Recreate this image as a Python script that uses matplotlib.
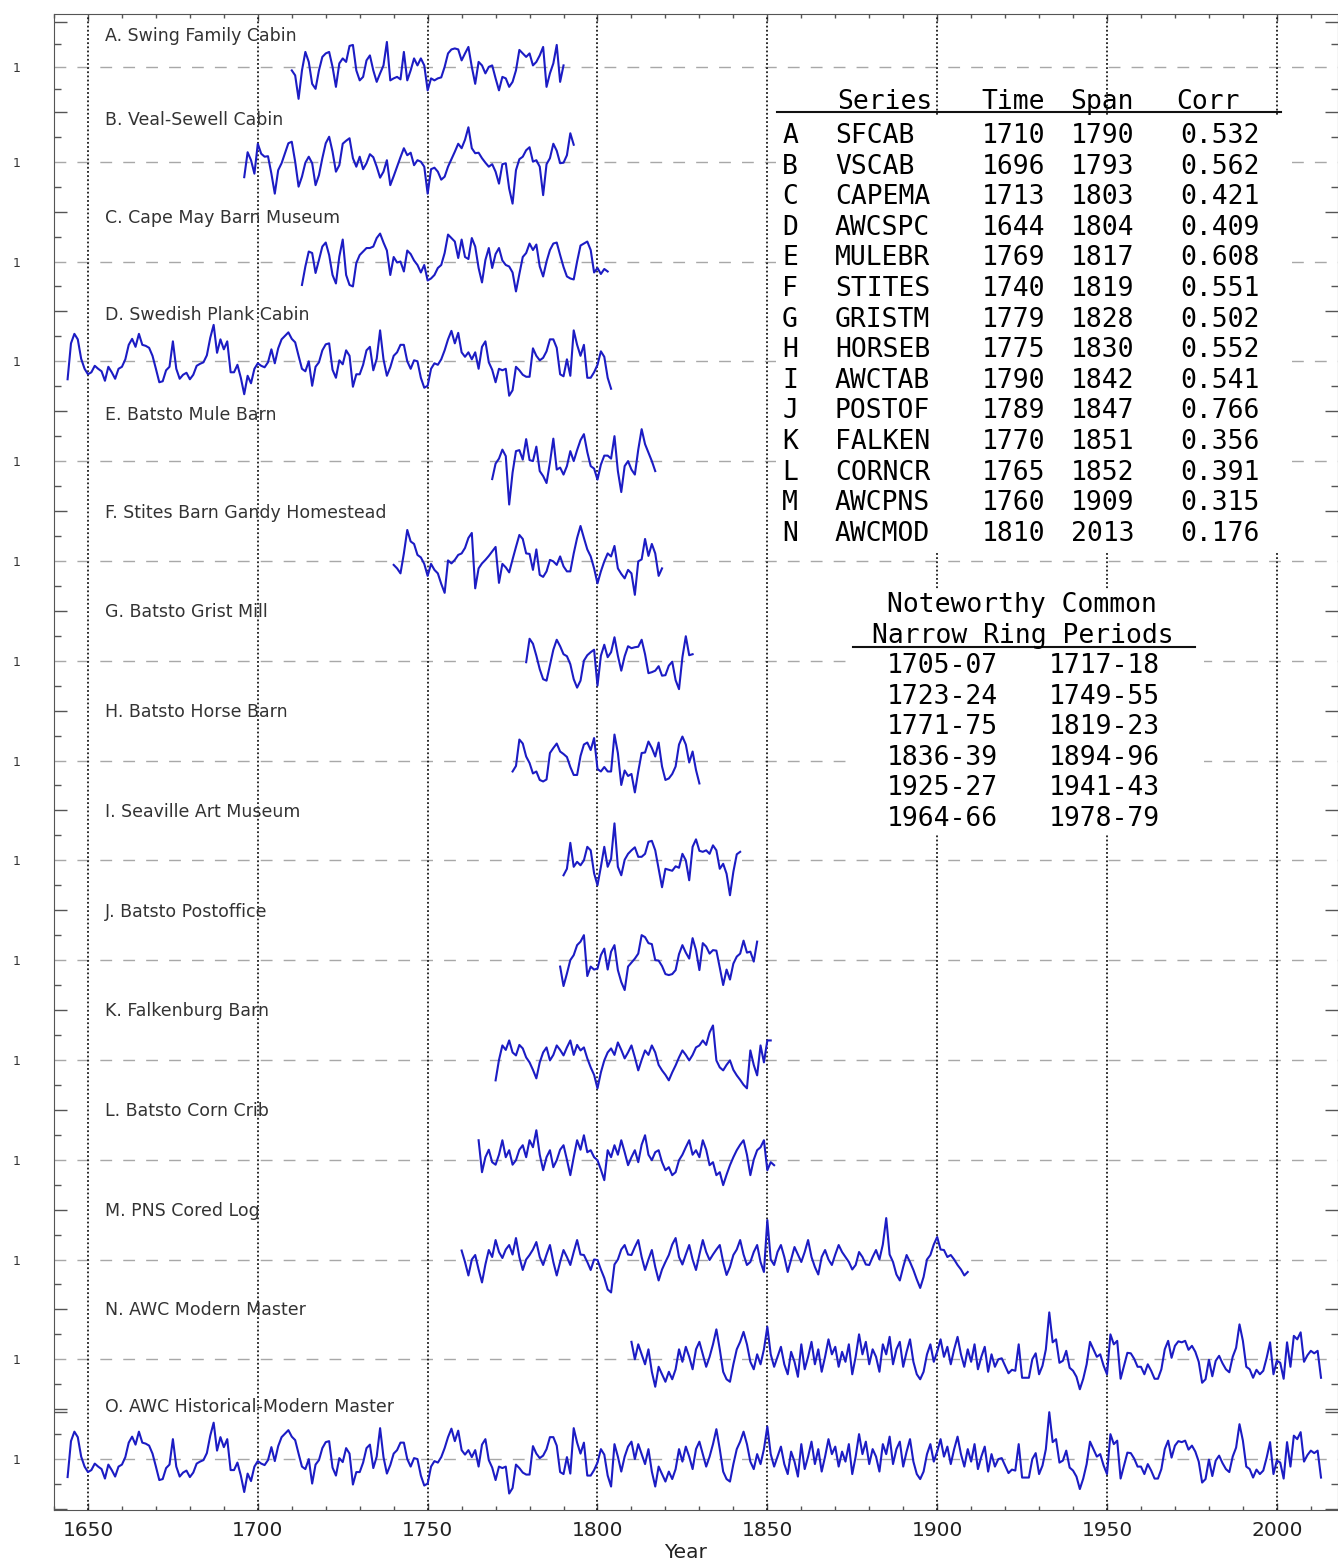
import numpy as np
import matplotlib
matplotlib.use("Agg")
import matplotlib.pyplot as plt
from matplotlib.lines import Line2D
from matplotlib.patches import Rectangle

W, H = 1338, 1563

# ring width indices, one value per year
a_vals = [0.93, 0.83, 0.36, 0.93, 1.30, 1.10, 0.66, 0.56, 0.93, 1.20,
          1.27, 1.30, 1.00, 0.60, 1.07, 1.17, 1.10, 1.42, 1.44, 0.93,
          0.73, 0.80, 1.13, 1.23, 0.93, 0.70, 0.87, 1.03, 1.50, 0.73,
          0.77, 0.80, 0.75, 1.30, 0.73, 0.93, 1.17, 1.03, 1.17, 1.03,
          0.53, 0.77, 0.73, 0.77, 0.79, 1.00, 1.27, 1.35, 1.37, 1.35,
          1.13, 1.27, 1.40, 1.00, 0.66, 1.10, 1.03, 0.87, 1.00, 1.03,
          0.77, 0.53, 0.80, 0.77, 0.60, 0.70, 0.93, 1.34, 1.27, 1.20,
          1.27, 1.03, 1.10, 1.23, 1.40, 0.60, 0.87, 1.07, 1.44, 0.70,
          1.03]
b_vals = [0.69, 1.19, 1.03, 0.76, 1.36, 1.16, 1.10, 1.11, 0.76, 0.36, 0.83,
          0.97, 1.17, 1.37, 1.40, 1.00, 0.50, 0.70, 0.98, 1.10, 0.97, 0.53, 0.73, 1.07,
          1.37, 1.50, 1.20, 0.80, 0.93, 1.36, 1.42, 1.47, 1.07, 0.90,
          1.10, 0.85, 0.97, 1.15, 1.09, 0.90, 0.68, 0.80, 1.03, 0.53,
          0.71, 0.90, 1.09, 1.27, 1.13, 1.18, 0.93, 1.03, 1.00, 0.90,
          0.36, 0.85, 0.88, 0.80, 0.64, 0.70, 0.90, 1.05, 1.20, 1.36,
          1.27, 1.44, 1.69, 1.27, 1.17, 1.18, 1.07, 0.98, 0.90, 0.95,
          0.80, 0.56, 0.95, 0.97, 0.46, 0.16, 0.83, 1.05, 1.10, 1.23,
          1.29, 1.00, 1.03, 0.90, 0.33, 0.95, 1.07, 1.36, 1.22, 0.97,
          0.98, 1.13, 1.57, 1.34]
c_vals = [0.53, 0.90, 1.20, 1.17, 0.77, 1.03, 1.30,
          1.38, 1.13, 0.73, 0.56, 1.10, 1.44, 0.73, 0.53, 0.50, 0.97,
          1.13, 1.20, 1.27, 1.27, 1.30, 1.47, 1.56, 1.38, 1.22, 0.73,
          1.09, 0.98, 1.00, 0.80, 1.22, 1.15, 1.02, 0.93, 0.78, 0.93,
          0.62, 0.66, 0.73, 0.87, 0.93, 1.17, 1.54, 1.47, 1.40, 1.07,
          1.44, 1.09, 1.05, 1.47, 1.30, 0.87, 0.58, 1.03, 1.27, 0.87,
          1.15, 1.27, 1.02, 0.93, 0.90, 0.78, 0.40, 0.75, 1.09, 1.17,
          1.36, 1.23, 1.34, 0.90, 0.70, 1.00, 1.23, 1.36, 1.38, 1.13,
          0.89, 0.70, 0.66, 0.64, 1.00, 1.32, 1.36, 1.40, 1.23, 0.78,
          0.87, 0.75, 0.85, 0.80]
d_vals = [0.64, 1.36, 1.55, 1.44, 1.05, 0.85,
          0.74, 0.78, 0.91, 0.85, 0.80, 0.61, 0.89, 0.78, 0.65, 0.85,
          0.89, 1.04, 1.33, 1.45, 1.29, 1.55, 1.33, 1.31, 1.27, 1.11,
          0.85, 0.58, 0.60, 0.82, 0.89, 1.40, 0.85, 0.65, 0.73, 0.77,
          0.64, 0.73, 0.91, 0.95, 0.98, 1.12, 1.47, 1.73, 1.17, 1.44,
          1.24, 1.40, 0.78, 0.78, 0.93, 0.67, 0.34, 0.71, 0.56, 0.85,
          0.96, 0.91, 0.88, 0.98, 1.24, 0.96, 1.26, 1.44, 1.51, 1.58,
          1.45, 1.38, 1.11, 0.85, 0.80, 1.00, 0.51, 0.89, 0.98, 1.22,
          1.34, 1.36, 0.83, 0.67, 1.02, 0.94, 1.22, 1.11, 0.49, 0.74,
          0.74, 0.93, 1.22, 1.29, 0.82, 1.05, 1.62, 1.04, 0.71, 0.88,
          1.11, 1.18, 1.33, 1.33, 1.00, 0.85, 1.02, 1.00, 0.67, 0.47,
          0.51, 0.85, 0.96, 0.93, 1.04, 1.22, 1.44, 1.61, 1.36, 1.57,
          1.18, 1.09, 1.18, 1.04, 1.18, 0.85, 1.29, 1.40, 0.98, 0.83,
          0.58, 0.85, 0.82, 0.85, 0.31, 0.42, 0.89, 0.82, 0.73, 0.69,
          0.69, 1.26, 1.11, 1.02, 1.07, 1.20, 1.44, 1.44, 1.27, 0.74,
          0.70, 1.04, 0.71, 1.62, 1.33, 1.11, 1.33, 0.67, 0.67, 0.78,
          0.93, 1.20, 1.09, 0.67, 0.45]
e_vals = [0.64,
          0.95, 1.05, 1.23, 1.10, 0.13, 0.77, 1.20, 1.22, 1.03, 1.44,
          1.02, 1.00, 1.29, 0.80, 0.70, 0.56, 0.97, 1.45, 0.83, 0.87,
          0.73, 0.90, 1.20, 1.00, 1.22, 1.42, 1.54, 1.18, 0.90, 0.85,
          0.63, 0.93, 1.11, 1.11, 1.05, 1.50, 0.80, 0.38, 0.90, 1.00,
          0.83, 0.73, 1.23, 1.64, 1.34, 1.17, 1.00, 0.80]
f_vals = [0.92, 0.85, 0.75, 1.15, 1.62, 1.39, 1.34, 1.12, 1.07, 0.94,
          0.70, 0.94, 0.82, 0.75, 0.54, 0.36, 1.01, 0.95, 1.02, 1.12,
          1.15, 1.26, 1.46, 1.56, 0.45, 0.85, 0.95, 1.02, 1.10, 1.19,
          1.28, 0.56, 0.94, 0.87, 0.77, 1.03, 1.28, 1.52, 1.44, 1.15,
          1.14, 0.82, 1.23, 0.72, 0.68, 0.79, 1.02, 0.99, 0.92, 1.09,
          0.89, 0.79, 0.79, 1.15, 1.46, 1.70, 1.46, 1.23, 1.09, 0.85,
          0.55, 0.79, 0.99, 1.15, 1.09, 1.30, 0.85, 0.74, 0.65, 0.82,
          0.75, 0.32, 0.99, 1.03, 1.44, 1.10, 1.34, 1.15, 0.70, 0.85]
g_vals = [0.97,
          1.44, 1.34, 1.10, 0.83, 0.63, 0.60, 0.91, 1.22, 1.42, 1.29,
          1.13, 1.09, 0.93, 0.63, 0.46, 0.60, 1.00, 1.11, 1.17, 1.22,
          0.50, 1.10, 1.32, 1.07, 1.17, 1.47, 1.10, 0.80, 1.09, 1.29,
          1.25, 1.27, 1.28, 1.42, 1.13, 0.75, 0.77, 0.80, 0.89, 0.70,
          0.71, 0.90, 0.98, 0.61, 0.43, 1.07, 1.49, 1.11, 1.13]
h_vals = [0.78, 0.89, 1.42, 1.34, 1.08,
          0.95, 0.74, 0.78, 0.61, 0.58, 0.62, 1.15, 1.25, 1.34, 1.18,
          1.13, 1.07, 0.87, 0.71, 0.71, 1.09, 1.32, 1.36, 1.21, 1.45,
          0.83, 0.78, 0.87, 0.78, 0.78, 1.52, 1.15, 0.51, 0.80, 0.69,
          0.73, 0.36, 0.78, 1.15, 1.16, 1.38, 1.25, 1.08, 1.36, 0.88,
          0.61, 0.64, 0.73, 0.88, 1.32, 1.48, 1.32, 0.96, 1.18, 0.81,
          0.54]
i_vals = [0.70, 0.83, 1.35, 0.87, 0.97, 0.90, 1.00, 1.27, 1.20, 0.74,
          0.50, 0.87, 1.27, 0.87, 1.03, 1.74, 0.87, 0.70, 1.01, 1.13,
          1.20, 1.26, 1.07, 1.07, 1.13, 1.37, 1.39, 1.20, 0.83, 0.46,
          0.83, 0.81, 0.79, 0.88, 0.85, 1.13, 1.00, 0.60, 1.27, 1.42,
          1.19, 1.17, 1.20, 1.13, 1.30, 1.20, 0.83, 0.93, 0.73, 0.30,
          0.77, 1.12, 1.17]
j_vals = [0.87,
          0.48, 0.73, 1.00, 1.10, 1.30, 1.37, 1.50, 0.68, 0.87, 0.81,
          0.83, 1.10, 1.23, 0.81, 1.17, 1.30, 0.80, 0.56, 0.40, 0.87,
          0.95, 1.03, 1.13, 1.50, 1.46, 1.34, 1.32, 1.00, 0.99, 0.88,
          0.72, 0.70, 0.72, 0.80, 1.12, 1.30, 1.15, 1.03, 1.44, 1.20,
          0.80, 1.34, 1.27, 1.13, 1.20, 1.19, 0.85, 0.50, 0.81, 0.61,
          0.93, 1.07, 1.13, 1.39, 1.15, 1.17, 0.97, 1.37]
k_vals = [0.59, 1.00, 1.29, 1.20, 1.39, 1.15, 1.09, 1.30, 1.23, 1.05,
          0.95, 0.80, 0.63, 0.95, 1.15, 1.25, 0.99, 1.10, 1.29, 1.20,
          1.09, 1.25, 1.39, 1.10, 1.30, 1.19, 1.25, 1.03, 0.85, 0.70,
          0.43, 0.75, 0.99, 1.15, 1.23, 1.10, 1.35, 1.20, 1.03, 1.15,
          1.29, 1.05, 0.79, 1.00, 1.19, 1.10, 1.29, 1.15, 0.90, 0.79,
          0.70, 0.59, 0.75, 0.89, 1.05, 1.19, 1.10, 0.99, 1.10, 1.25,
          1.29, 1.39, 1.30, 1.55, 1.69, 0.99, 0.85, 0.79, 0.90, 0.99,
          0.80, 0.69, 0.60, 0.50, 0.43, 1.19, 0.90, 0.69, 1.29, 0.95,
          1.39, 1.39]
l_vals = [1.39, 0.75, 1.05, 1.20, 0.95, 0.90, 1.10, 1.39, 1.05, 1.19,
          0.90, 0.99, 1.20, 1.29, 1.05, 1.39, 1.25, 1.59, 1.10, 0.79,
          1.05, 1.19, 0.85, 0.99, 1.20, 1.29, 1.00, 0.69, 1.05, 1.39,
          1.20, 1.49, 1.15, 1.19, 1.05, 0.99, 0.80, 0.59, 1.19, 1.05,
          1.29, 1.10, 1.39, 1.15, 0.89, 1.05, 1.19, 0.95, 1.30, 1.49,
          1.10, 0.99, 1.15, 1.19, 0.95, 0.79, 0.85, 0.69, 0.75, 0.99,
          1.10, 1.25, 1.39, 1.10, 1.19, 1.05, 1.39, 1.20, 0.89, 0.95,
          0.69, 0.75, 0.49, 0.70, 0.89, 1.05, 1.19, 1.30, 1.39, 1.10,
          0.69, 1.00, 1.19, 1.25, 1.39, 0.79, 0.95, 0.89]
m_vals = [1.18, 0.95, 0.68, 1.00, 1.09, 0.80, 0.54, 0.90, 1.19, 1.05,
          1.39, 1.15, 1.03, 1.20, 1.29, 1.10, 1.43, 1.05, 0.79, 1.00,
          1.09, 1.20, 1.35, 1.05, 0.89, 1.10, 1.29, 0.95, 0.68, 0.95,
          1.19, 1.05, 0.89, 1.15, 1.39, 1.10, 1.09, 0.95, 0.79, 1.00,
          0.99, 0.80, 0.63, 0.40, 0.34, 0.90, 1.00, 1.20, 1.29, 1.10,
          1.09, 1.25, 1.39, 1.05, 0.79, 1.00, 1.19, 0.85, 0.58, 0.80,
          0.95, 1.09, 1.30, 1.43, 1.05, 0.90, 1.10, 1.29, 1.00, 0.79,
          1.10, 1.39, 1.15, 0.99, 1.10, 1.20, 1.29, 0.95, 0.69, 0.85,
          1.09, 1.20, 1.39, 1.10, 0.89, 0.95, 1.15, 1.29, 0.95, 0.75,
          1.79, 1.00, 0.89, 1.15, 1.29, 1.05, 0.75, 1.00, 1.25, 1.10,
          0.95, 1.15, 1.39, 1.05, 0.85, 0.70, 1.05, 1.19, 1.00, 0.89,
          1.10, 1.29, 1.15, 1.05, 0.95, 0.80, 0.89, 1.15, 1.05, 0.90,
          0.89, 1.05, 1.19, 1.00, 1.30, 1.83, 1.10, 0.95, 0.70, 0.58,
          0.85, 1.09, 0.95, 0.79, 0.60, 0.43, 0.65, 1.00, 1.09, 1.30,
          1.45, 1.20, 1.19, 1.05, 1.09, 1.00, 0.89, 0.80, 0.68, 0.75]
n_vals = [1.35, 1.00, 1.30, 1.10, 0.90, 1.20, 0.75, 0.45, 0.85, 0.70,
          0.55, 0.75, 0.60, 0.80, 1.20, 0.95, 1.25, 1.05, 0.80, 1.20,
          1.35, 1.10, 0.85, 1.05, 1.30, 1.60, 1.20, 0.75, 0.60, 0.55,
          0.90, 1.20, 1.35, 1.55, 1.30, 0.95, 0.80, 1.10, 0.90, 1.20,
          1.65, 1.10, 0.85, 1.05, 1.25, 0.90, 0.70, 1.15, 0.95, 0.65,
          1.30, 0.80, 1.05, 1.35, 0.90, 1.20, 0.75, 1.05, 1.40, 1.10,
          1.25, 0.85, 1.15, 0.95, 1.30, 0.70, 1.05, 1.50, 1.10, 1.35,
          0.90, 1.20, 1.05, 0.75, 1.30, 1.10, 1.45, 0.90, 1.20, 1.35,
          0.85, 1.15, 1.40, 0.95, 0.70, 0.60, 0.75, 1.10, 1.30, 0.95,
          1.15, 1.40, 1.05, 1.25, 0.90, 1.20, 1.45, 1.10, 0.85, 1.20,
          0.95, 1.30, 0.80, 1.05, 1.25, 0.75, 1.10, 0.85, 1.00,
          1.02, 0.87, 0.72, 0.79, 0.77, 1.30, 0.63, 0.63, 0.63, 1.00,
          1.12, 0.70, 0.87, 1.20, 1.94, 1.34, 1.40, 0.93, 0.97, 1.17,
          0.83, 0.77, 0.65, 0.40, 0.61, 0.90, 1.35, 1.20, 1.05, 1.10,
          0.87, 0.70, 1.50, 1.30, 1.37, 0.61, 0.87, 1.13, 1.12, 1.01,
          0.85, 0.85, 0.70, 0.90, 0.77, 0.61, 0.61, 0.80, 1.20, 1.37,
          1.03, 1.27, 1.36, 1.34, 1.37, 1.19, 1.27, 1.15, 0.95, 0.53,
          0.60, 0.99, 0.66, 0.97, 1.07, 0.92, 0.80, 0.74, 1.05, 1.23,
          1.70, 1.37, 0.85, 0.80, 0.63, 0.79, 0.70, 0.77, 1.03, 1.34,
          0.70, 0.97, 0.93, 0.61, 1.34, 0.85, 1.47, 1.40, 1.54, 0.95,
          1.08, 1.17, 1.12, 1.17, 0.63]
bridge_vals = [1.30, 1.05, 0.75, 1.05, 1.25]
# the historical-modern master follows D up to 1804 and N from 1810
o_vals = d_vals + bridge_vals + n_vals

names = ["A. Swing Family Cabin", "B. Veal-Sewell Cabin", "C. Cape May Barn Museum",
         "D. Swedish Plank Cabin", "E. Batsto Mule Barn", "F. Stites Barn Gandy Homestead",
         "G. Batsto Grist Mill", "H. Batsto Horse Barn", "I. Seaville Art Museum",
         "J. Batsto Postoffice", "K. Falkenburg Barn", "L. Batsto Corn Crib",
         "M. PNS Cored Log", "N. AWC Modern Master", "O. AWC Historical-Modern Master"]
starts = [1710, 1696, 1713, 1644, 1769, 1740, 1779, 1775, 1790, 1789, 1770, 1765, 1760, 1810, 1644]
values = [a_vals, b_vals, c_vals, d_vals, e_vals, f_vals, g_vals, h_vals, i_vals,
          j_vals, k_vals, l_vals, m_vals, n_vals, o_vals]

# table on the right
letters = list("ABCDEFGHIJKLMN")
codes = ["SFCAB", "VSCAB", "CAPEMA", "AWCSPC", "MULEBR", "STITES", "GRISTM",
         "HORSEB", "AWCTAB", "POSTOF", "FALKEN", "CORNCR", "AWCPNS", "AWCMOD"]
span_from = [1710, 1696, 1713, 1644, 1769, 1740, 1779, 1775, 1790, 1789, 1770, 1765, 1760, 1810]
span_to = [1790, 1793, 1803, 1804, 1817, 1819, 1828, 1830, 1842, 1847, 1851, 1852, 1909, 2013]
corr = [0.532, 0.562, 0.421, 0.409, 0.608, 0.551, 0.502, 0.552, 0.541, 0.766,
        0.356, 0.391, 0.315, 0.176]
narrow = ["1705-07", "1717-18", "1723-24", "1749-55", "1771-75", "1819-23",
          "1836-39", "1894-96", "1925-27", "1941-43", "1964-66", "1978-79"]

blue = "#1c1cc4"
grid_grey = "#a8a8a8"

fig = plt.figure(figsize=(W / 100, H / 100), dpi=100)
ax = fig.add_axes([54 / W, 53 / H, 1284 / W, 1496 / H])
ax.set_xlim(1640, 2018)
ax.set_ylim(-0.02, 29.96)

def fx(x):
    return x / W

def fy(y):
    return 1 - y / H

# baselines: O at 1, N at 3 ... B at 27, A squeezed under the top
bases = [28.9] + [2 * (13 - k) + 1 for k in range(14)]
label_off = [0.62, 0.84, 0.87, 0.93, 0.92, 0.95, 0.97, 0.97, 0.97, 0.97, 0.97, 0.98, 0.98, 0.98, 1.05]

for yr in range(1650, 2001, 50):
    ax.axvline(yr, color="#1a1a1a", lw=1.3, ls=(0, (1, 1.3)), zorder=2)

for k in range(15):
    ax.axhline(bases[k], color=grid_grey, lw=1.0, dashes=(8.5, 8), zorder=1)
    vals = values[k]
    yrs = np.arange(starts[k], starts[k] + len(vals))
    ax.plot(yrs, bases[k] + np.array(vals) - 1, color=blue, lw=1.5, zorder=3)
    ax.text(1655, bases[k] + label_off[k], names[k], fontsize=12.5, color="#333333",
            va="center", ha="left", family="DejaVu Sans")

# y ticks: boundary ticks long, half-unit ticks short, a "1" at each baseline
bounds = [2 * k for k in range(15)] + [1.95, 29.8]
majors = bases + bounds
ax.set_yticks(majors)
ax.set_yticklabels(["1"] * len(bases) + [""] * len(bounds))
minors = [b + d for b in bases[1:] for d in (-0.5, 0.5)] + [28.45, 29.35]
ax.set_yticks(minors, minor=True)
ax.tick_params(axis="y", which="both", direction="in", left=True, right=True,
               colors="#555555", labelcolor="#333333", labelsize=9, pad=24, width=1)
ax.tick_params(axis="y", which="major", length=9.5)
ax.tick_params(axis="y", which="minor", length=5)
for t in ax.yaxis.get_major_ticks()[:len(bases)]:
    t.tick1line.set_markersize(0)
    t.tick2line.set_markersize(0)

ax.set_xticks(range(1650, 2001, 50))
ax.set_xticks(range(1640, 2019, 10), minor=True)
ax.tick_params(axis="x", which="both", direction="in", top=True, bottom=True,
               colors="#555555", labelcolor="#222222", labelsize=14.5, pad=8, width=1)
ax.tick_params(axis="x", which="major", length=5)
ax.tick_params(axis="x", which="minor", length=3)
for sp in ax.spines.values():
    sp.set_color("#555555")
fig.text(fx(686), fy(1553), "Year", ha="center", va="center", fontsize=14.5, color="#222222")

# white panels behind the table text
fig.add_artist(Rectangle((fx(776), fy(551)), fx(1283 - 776), (551 - 116) / H,
                         facecolor="white", edgecolor="none", zorder=1))
fig.add_artist(Rectangle((fx(850), fy(834)), fx(1204 - 850), (834 - 590) / H,
                         facecolor="white", edgecolor="none", zorder=1))

# correlation table
mono = "DejaVu Sans Mono"
ts = 19
fig.text(fx(885), fy(102), "Series", ha="center", va="center", family=mono, fontsize=ts)
fig.text(fx(1013), fy(102), "Time", ha="center", va="center", family=mono, fontsize=ts)
fig.text(fx(1102), fy(102), "Span", ha="center", va="center", family=mono, fontsize=ts)
fig.text(fx(1208), fy(102), "Corr", ha="center", va="center", family=mono, fontsize=ts)
fig.add_artist(Line2D([fx(777), fx(1281)], [fy(112), fy(112)], color="#111111", lw=1.5, zorder=2))
for r in range(len(letters)):
    y = fy(136 + r * 30.6)
    fig.text(fx(790), y, letters[r], ha="center", va="center", family=mono, fontsize=ts)
    fig.text(fx(835), y, codes[r], ha="left", va="center", family=mono, fontsize=ts)
    fig.text(fx(1014), y, str(span_from[r]), ha="center", va="center", family=mono, fontsize=ts)
    fig.text(fx(1103), y, str(span_to[r]), ha="center", va="center", family=mono, fontsize=ts)
    fig.text(fx(1220), y, "%.3f" % corr[r], ha="center", va="center", family=mono, fontsize=ts)

fig.text(fx(1022), fy(605), "Noteworthy Common", ha="center", va="center", family=mono, fontsize=ts)
fig.text(fx(1023), fy(636), "Narrow Ring Periods", ha="center", va="center", family=mono, fontsize=ts)
fig.add_artist(Line2D([fx(853), fx(1195)], [fy(647), fy(647)], color="#111111", lw=1.5, zorder=2))
for r in range(len(narrow) // 2):
    y = fy(666 + r * 30.6)
    fig.text(fx(942), y, narrow[2 * r], ha="center", va="center", family=mono, fontsize=ts)
    fig.text(fx(1104), y, narrow[2 * r + 1], ha="center", va="center", family=mono, fontsize=ts)

fig.savefig("out.png", dpi=100)
